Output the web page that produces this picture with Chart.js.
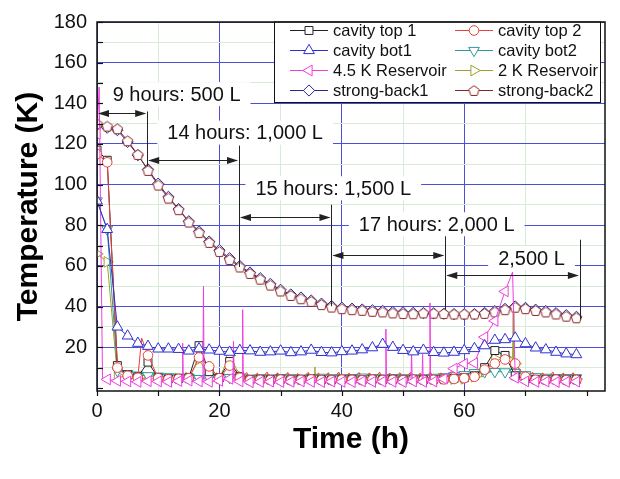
<!DOCTYPE html>
<html>
<head>
<meta charset="utf-8">
<script src="https://cdn.jsdelivr.net/npm/chart.js@4/dist/chart.umd.min.js"></script>
<style>
html,body{margin:0;padding:0;background:#fff;}
canvas{display:block;}
</style>
</head>
<body>
<canvas id="c" width="620" height="479" style="width:620px;height:479px"></canvas>
<script>
// ---------------- DATA ----------------
const times = [0, 1.67, 3.33, 5, 6.67, 8.33, 10, 11.67, 13.33, 15, 16.67, 18.33, 20, 21.67, 23.33, 25, 26.67, 28.33, 30, 31.67, 33.33, 35, 36.67, 38.33, 40, 41.67, 43.33, 45, 46.67, 48.33, 50, 51.67, 53.33, 55, 56.67, 58.33, 60, 61.67, 63.33, 65, 66.67, 68.33, 70, 71.67, 73.33, 75, 76.67, 78.33];

const cavityTop1 = [117, 112, 11, 6.5, 5.5, 12.7, 5, 4.5, 4.6, 5, 20.8, 8, 5, 13, 5.5, 4, 4.2, 4.1, 4.3, 4.0, 4.2, 4.4, 4.1, 4.0, 4.3, 4.2, 4.0, 4.3, 4.1, 4.2, 4.0, 4.3, 4.1, 4.2, 4.4, 4.6, 5, 6, 10, 18.4, 16, 6, 4.5, 4.2, 4.1, 4.3, 4.0, 4.2];
const cavityTop2 = [115, 111, 10, 6, 5, 16, 4.8, 4.3, 4.5, 4.8, 15, 10.6, 4.8, 11, 5, 3.8, 4.0, 3.9, 4.1, 3.8, 4.0, 4.2, 3.9, 3.8, 4.1, 4.0, 3.8, 4.1, 3.9, 4.0, 3.8, 4.1, 3.9, 4.0, 4.2, 4.4, 4.8, 5.5, 9, 12, 14, 12, 5.5, 4.0, 3.9, 4.1, 3.8, 4.0];
const cavityBot1 = [92, 78, 30, 25.6, 22, 20.5, 19.2, 19.2, 19, 18.2, 19.3, 18.7, 18.1, 17.6, 18.5, 18.3, 17.6, 17.8, 18.2, 17.4, 17.8, 18.6, 17.5, 17.3, 17.9, 18.2, 18.8, 19.8, 21.5, 20, 18.5, 17.8, 18.6, 17.5, 17.2, 17.6, 18.4, 19.4, 20.8, 23.5, 23.8, 24.6, 21.8, 19.7, 18.8, 17.6, 16.8, 16.4];
const cavityBot2 = [92, 78, 8.5, 7, 6.3, 6, 5.8, 5.5, 5.3, 5.2, 4.6, 5.0, 5.3, 5.1, 5.0, 4.8, 5.0, 4.9, 5.1, 5.0, 4.8, 5.0, 5.2, 5.0, 4.9, 5.1, 5.3, 5.0, 4.9, 5.1, 5.0, 4.8, 5.0, 5.2, 5.5, 6.0, 6.5, 7.5, 7.9, 8.0, 7.9, 7.6, 6.5, 5.5, 5.2, 5.0, 5.1, 5.0];
const reservoir45 = [125, 4.2, 3.5, 3.2, 3.0, 3.3, 3.2, 3.0, 3.4, 3.6, 3.2, 3.0, 3.5, 4.5, 3.2, 2.8, 3.0, 3.1, 2.9, 3.0, 3.2, 3.0, 2.9, 3.1, 3.0, 2.9, 3.2, 3.0, 3.1, 3.0, 2.9, 3.2, 3.0, 3.1, 4.5, 9.5, 11.9, 12.2, 25, 33, 47.5, 5, 3.2, 3.0, 3.1, 2.9, 3.0, 3.1];
const reservoir2 = [66, 62, 6, 5, 4.5, 5, 4.8, 4.5, 4.6, 5, 14, 5.5, 4.8, 16, 6, 4.2, 4.4, 4.3, 4.5, 4.4, 4.2, 4.6, 4.4, 4.3, 4.5, 4.4, 4.6, 4.5, 4.3, 4.4, 4.5, 4.6, 4.4, 4.3, 4.5, 4.4, 4.5, 5.5, 8, 14.5, 15.2, 12, 5, 4.5, 4.4, 4.3, 4.5, 4.4];
const strongBack1 = [129, 128, 126.8, 121, 114.5, 107.5, 100.5, 94, 88, 82, 77, 72, 67.8, 63.8, 60, 56.8, 54, 51.2, 48.3, 46, 44.5, 43, 41.5, 40.3, 39.5, 39.0, 38.6, 38.2, 37.9, 37.4, 37.2, 37.0, 36.8, 36.7, 36.5, 36.3, 36.2, 36.3, 36.9, 37.8, 38.9, 40.1, 39.4, 38.5, 37.8, 36.8, 35.8, 35.0];
const strongBack2 = [130, 128.8, 127.5, 121.6, 114.8, 107, 99.8, 93.4, 87.7, 81.6, 76.4, 71.6, 67.1, 63.2, 59.5, 56.3, 53.5, 50.6, 47.7, 45.5, 43.9, 42.6, 41.0, 39.8, 39.0, 38.5, 38.2, 37.7, 37.4, 36.9, 36.6, 36.5, 36.9, 36.8, 36.6, 36.4, 36.4, 36.4, 36.7, 37.4, 38.5, 39.7, 39.0, 38.1, 37.4, 36.4, 35.3, 34.5];

// unmarked extra samples (short spikes / ripples between the marked points)
const res45SpikeT = [0.35, 0.9, 13.9, 14.0, 14.1, 17.3, 17.4, 17.5, 22.2, 22.3, 22.4, 23.7, 23.8, 23.9, 47.1, 47.2, 47.3, 51.3, 51.4, 51.5, 53.1, 53.2, 53.3, 54.3, 54.4, 54.5, 67.9];
const res45SpikeV = [148, 5, 3.2, 22, 3.2, 3.2, 50, 3.2, 3.5, 23, 3.5, 3.3, 38.5, 3.3, 3.0, 29, 3.0, 3.0, 18.4, 3.0, 3.0, 16.5, 3.0, 3.1, 41.8, 3.1, 57];
const res2SpikeT = [35.5, 35.6, 35.7, 67.9, 68.0, 68.1];
const res2SpikeV = [4.5, 10.3, 4.5, 15, 37.7, 13];
const top2SpikeT = [7.3, 24.5, 26.2, 27.8, 29.5, 31.2, 32.8, 34.5, 36.2, 37.8, 39.5, 41.2, 42.8, 44.5, 46.2, 47.8, 49.5, 51.2, 52.8, 54.5, 56.2, 57.8, 59.5, 71.2, 72.8, 74.5, 76.2, 77.8];
const top2SpikeV = [24.5, 7.5, 7.2, 7.8, 7.4, 7.6, 7.1, 7.7, 7.3, 7.5, 7.8, 7.2, 7.6, 7.4, 7.7, 7.3, 7.5, 7.6, 7.2, 7.8, 7.4, 7.5, 7.3, 7.6, 7.4, 7.8, 7.3, 7.5];

const seriesNames = ['cavity top 1', 'cavity top 2', 'cavity bot1', 'cavity bot2', '4.5 K Reservoir', '2 K Reservoir', 'strong-back1', 'strong-back2'];

const xTickValues = [0, 20, 40, 60, 80];
const yTickValues = [0, 20, 40, 60, 80, 100, 120, 140, 160, 180];

// annotations (data coordinates)
const noteText = ['9 hours: 500 L', '14 hours: 1,000 L', '15 hours: 1,500 L', '17 hours: 2,000 L', '2,500 L'];
const noteX = [13.0, 24.2, 38.6, 55.5, 71.0];
const noteY = [144.5, 125.6, 98.2, 80.5, 63.9];
const arrowFrom = [0, 8.2, 23.2, 38.3, 56.9];
const arrowTo = [8.2, 23.2, 38.3, 56.9, 78.9];
const arrowY = [135.3, 112.2, 84.2, 65.2, 55.8];
const markX = [8.2, 23.2, 38.3, 56.9, 78.9];
const markTop = [136, 119.2, 90.1, 76.4, 72.9];
const markBottom = [109, 59.5, 40.2, 38.6, 33.7];

// ---------------- BUILD ----------------
function build(vals, exT, exV) {
  const pts = times.map((t, i) => ({ x: t, y: vals[i], m: 1 }));
  (exT || []).forEach((t, i) => pts.push({ x: t, y: exV[i], m: 0 }));
  pts.sort((a, b) => a.x - b.x);
  return pts;
}
function makePentagon(color, r) {
  const s = Math.ceil(r * 2 + 4);
  const c = document.createElement('canvas');
  c.width = s; c.height = s;
  const g = c.getContext('2d');
  g.beginPath();
  for (let k = 0; k < 5; k++) {
    const a = -Math.PI / 2 + k * 2 * Math.PI / 5;
    const px = s / 2 + r * Math.cos(a), py = s / 2 + 0.6 + r * Math.sin(a);
    if (k) g.lineTo(px, py); else g.moveTo(px, py);
  }
  g.closePath();
  g.fillStyle = '#ffffff'; g.fill();
  g.strokeStyle = color; g.lineWidth = 1; g.stroke();
  return c;
}

const COLORS = ['#222222', '#e8403c', '#2f2fd0', '#2b9b9b', '#f03ce0', '#a0a030', '#26268e', '#8a2424'];
const pentagon = makePentagon(COLORS[7], 5.4);
const STYLES = [
  { ps: 'rect', rot: 0, r: 5.6 },
  { ps: 'circle', rot: 0, r: 4.8 },
  { ps: 'triangle', rot: 0, r: 6.2 },
  { ps: 'triangle', rot: 180, r: 6.2 },
  { ps: 'triangle', rot: -90, r: 6.2 },
  { ps: 'triangle', rot: 90, r: 6.2 },
  { ps: 'rectRot', rot: 0, r: 5.6 },
  { ps: pentagon, rot: 0, r: 5.4 }
];
const VALUES = [
  build(cavityTop1),
  build(cavityTop2, top2SpikeT, top2SpikeV),
  build(cavityBot1),
  build(cavityBot2),
  build(reservoir45, res45SpikeT, res45SpikeV),
  build(reservoir2, res2SpikeT, res2SpikeV),
  build(strongBack1),
  build(strongBack2)
];
// lower order = drawn on top
const DRAW_ORDER = [5, 4, 2, 6, 3, 7, 9, 8];

const datasets = seriesNames.map((name, i) => ({
  label: name,
  data: VALUES[i],
  borderColor: COLORS[i],
  backgroundColor: '#ffffff',
  borderWidth: 1,
  pointStyle: STYLES[i].ps,
  pointRotation: STYLES[i].rot,
  pointBorderWidth: 1,
  pointBorderColor: COLORS[i],
  pointBackgroundColor: '#ffffff',
  pointRadius: ctx => (ctx.raw && ctx.raw.m ? STYLES[i].r : 0),
  pointHoverRadius: ctx => (ctx.raw && ctx.raw.m ? STYLES[i].r : 0),
  tension: 0,
  fill: false,
  order: DRAW_ORDER[i]
}));

const FONT = "'Liberation Sans', Arial, Helvetica, sans-serif";
const MAJOR = '#4d4ddb';
const MINOR = '#d6ecd6';

function drawMarker(ctx, i, x, y) {
  const st = STYLES[i];
  ctx.save();
  ctx.strokeStyle = COLORS[i];
  ctx.fillStyle = '#fff';
  ctx.lineWidth = 1;
  if (Chart.helpers && Chart.helpers.drawPoint) {
    Chart.helpers.drawPoint(ctx, { pointStyle: st.ps, rotation: st.rot, radius: st.r, borderWidth: 1 }, x, y);
  }
  ctx.restore();
}

function arrowHead(ctx, x, y, dir) {
  ctx.beginPath();
  ctx.moveTo(x, y);
  ctx.lineTo(x - dir * 11, y - 3.6);
  ctx.lineTo(x - dir * 11, y + 3.6);
  ctx.closePath();
  ctx.fill();
}

const overlay = {
  id: 'overlay',
  afterDatasetsDraw(chart) {
    const { ctx, chartArea: a, scales: { x, y } } = chart;
    ctx.save();
    // annotation lines
    ctx.strokeStyle = '#222';
    ctx.fillStyle = '#222';
    ctx.lineWidth = 1;
    for (let k = 0; k < markX.length; k++) {
      const px = Math.round(x.getPixelForValue(markX[k])) + 0.5;
      ctx.beginPath();
      ctx.moveTo(px, y.getPixelForValue(markTop[k]));
      ctx.lineTo(px, y.getPixelForValue(markBottom[k]));
      ctx.stroke();
    }
    for (let k = 0; k < arrowFrom.length; k++) {
      const x1 = x.getPixelForValue(arrowFrom[k]), x2 = x.getPixelForValue(arrowTo[k]);
      const py = Math.round(y.getPixelForValue(arrowY[k])) + 0.5;
      ctx.beginPath(); ctx.moveTo(x1 + 2, py); ctx.lineTo(x2 - 2, py); ctx.stroke();
      arrowHead(ctx, x1 + 1, py, -1);
      arrowHead(ctx, x2 - 1, py, 1);
    }
    // annotation texts with white boxes
    ctx.font = '20px ' + FONT;
    ctx.textAlign = 'center';
    ctx.textBaseline = 'middle';
    for (let k = 0; k < noteText.length; k++) {
      const px = x.getPixelForValue(noteX[k]), py = y.getPixelForValue(noteY[k]);
      const w = ctx.measureText(noteText[k]).width;
      ctx.fillStyle = '#fff';
      ctx.fillRect(px - w / 2 - 10, py - 12, w + 20, 24);
      ctx.fillStyle = '#111';
      ctx.fillText(noteText[k], px, py + 1);
    }
    // legend
    const L = 274.5, R = 600.5, T = a.top, B = 102.5;
    ctx.fillStyle = '#fff';
    ctx.fillRect(L, T, R - L, B - T);
    ctx.strokeStyle = '#111';
    ctx.lineWidth = 1;
    ctx.strokeRect(L, T, R - L, B - T);
    const colX = [290, 455];
    const rowY = [30.5, 50.5, 70.5, 90.5];
    ctx.font = '16.5px ' + FONT;
    ctx.textAlign = 'left';
    for (let i = 0; i < seriesNames.length; i++) {
      const cx = colX[i % 2], cy = rowY[Math.floor(i / 2)];
      ctx.strokeStyle = COLORS[i];
      ctx.lineWidth = 1;
      ctx.beginPath(); ctx.moveTo(cx, cy); ctx.lineTo(cx + 38, cy); ctx.stroke();
      drawMarker(ctx, i, cx + 19, cy);
      ctx.fillStyle = '#111';
      ctx.fillText(seriesNames[i], cx + 43, cy + 1);
    }
    // frame
    ctx.strokeStyle = '#111';
    ctx.lineWidth = 1.5;
    ctx.strokeRect(a.left, a.top, a.right - a.left, a.bottom - a.top);
    // ticks: left inward, bottom outward
    ctx.lineWidth = 1.2;
    for (let v = 0; v <= 180; v += 10) {
      const py = Math.round(y.getPixelForValue(v)) + 0.5;
      ctx.beginPath(); ctx.moveTo(a.left, py); ctx.lineTo(a.left + 6, py); ctx.stroke();
    }
    for (let v = 0; v <= 80; v += 10) {
      const px = Math.round(x.getPixelForValue(v)) + 0.5;
      ctx.beginPath(); ctx.moveTo(px, a.bottom); ctx.lineTo(px, a.bottom + 5); ctx.stroke();
    }
    ctx.restore();
  }
};

new Chart(document.getElementById('c').getContext('2d'), {
  type: 'line',
  data: { datasets },
  options: {
    responsive: false,
    animation: false,
    events: [],
    layout: { padding: { left: 0, right: 15, top: 16, bottom: 0 } },
    plugins: { legend: { display: false }, tooltip: { enabled: false } },
    scales: {
      x: {
        type: 'linear', min: 0, max: 83,
        afterFit(s) { s.height = 88; },
        afterBuildTicks(s) { s.ticks = s.ticks.filter(t => t.value >= 0 && t.value <= 80 && t.value % 10 === 0); },
        ticks: { stepSize: 10, autoSkip: false, maxRotation: 0, padding: 8, color: '#111',
          font: { family: FONT, size: 20 },
          callback: v => (xTickValues.includes(v) ? String(v) : '') },
        grid: { color: c => (c.tick && c.tick.value % 20 === 0 ? MAJOR : MINOR), lineWidth: 1, drawTicks: false },
        border: { display: false },
        title: { display: true, text: 'Time (h)', color: '#000', font: { family: FONT, size: 30, weight: 'bold' }, padding: { top: 0, bottom: 21 } }
      },
      y: {
        type: 'linear', min: -1.5, max: 180,
        afterFit(s) { s.width = 97; },
        afterBuildTicks(s) { s.ticks = s.ticks.filter(t => t.value >= 0 && t.value <= 180 && t.value % 10 === 0); },
        ticks: { stepSize: 10, autoSkip: false, padding: 10, color: '#111',
          font: { family: FONT, size: 20 },
          callback: v => (yTickValues.includes(v) ? String(v) : '') },
        grid: { color: c => (c.tick && c.tick.value % 20 === 0 ? MAJOR : MINOR), lineWidth: 1, drawTicks: false },
        border: { display: false },
        title: { display: true, text: 'Temperature (K)', color: '#000', font: { family: FONT, size: 30, weight: 'bold' }, padding: { top: 11, bottom: 0 } }
      }
    }
  },
  plugins: [overlay]
});
</script>
</body>
</html>
